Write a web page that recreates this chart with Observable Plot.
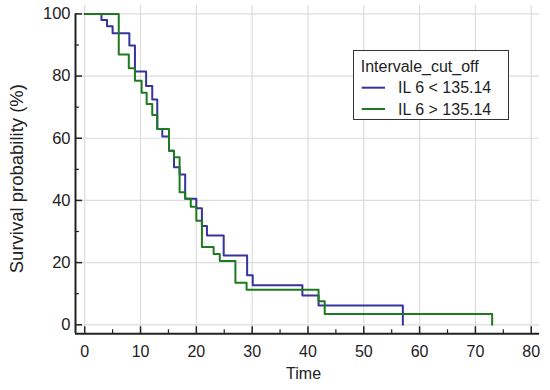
<!DOCTYPE html>
<html><head><meta charset="utf-8">
<script src="https://cdn.jsdelivr.net/npm/d3@7"></script>
<script src="https://cdn.jsdelivr.net/npm/@observablehq/plot@0.6"></script>
<style>
html,body{margin:0;padding:0;background:#fff;}
#wrap{position:relative;width:550px;height:390px;font-family:"Liberation Sans",Arial,sans-serif;}
#legend{position:absolute;left:350px;top:45px;}
</style>
</head><body>
<div id="wrap"><div id="chart"></div><div id="legend"></div></div>
<script>
const legendTitle = "Intervale_cut_off";
const groups = ["IL 6 < 135.14", "IL 6 > 135.14"];
const colors = ["#34349c", "#1f7a1f"];
// IL 6 < 135.14
const timeLow = [0, 3.0, 4.0, 5.0, 8.0, 9.0, 11.0, 12.1, 13.0, 13.9, 15.1, 16.0, 17.0, 18.0, 20.0, 21.0, 21.9, 24.9, 29.1, 30.1, 39.0, 41.9, 57.0];
const survLow = [100, 98, 96, 93.8, 89.8, 81.5, 76.8, 72.5, 63, 60.6, 56, 50.7, 48.3, 40.5, 37.5, 31.8, 28.7, 22.3, 15.9, 12.7, 9.4, 6.2, 0];
// IL 6 > 135.14
const timeHigh = [0, 6.1, 7.9, 9.0, 10.2, 11.1, 12.1, 13.0, 15.1, 16.0, 17.0, 18.0, 19.0, 20.0, 21.0, 23.1, 24.2, 27.0, 29.0, 41.9, 43.0, 73.0];
const survHigh = [100, 86.9, 82.5, 78.5, 74.6, 71, 67.5, 63, 56, 53.9, 42.6, 40.5, 38, 33.5, 25, 22.8, 20.5, 13.5, 11.3, 7.6, 3.5, 0];

const xTicks = [0, 10, 20, 30, 40, 50, 60, 70, 80];
const xMinor = [5, 15, 25, 35, 45, 55, 65, 75];
const yTicks = [0, 20, 40, 60, 80, 100];
const yMinor = [10, 30, 50, 70, 90];
const xTitle = "Time";
const yTitle = "Survival probability (%)";

const xDomain = [-1.65, 81.5];
const yDomain = [-2.9, 102.7];

const rows = [
  ...timeLow.map((t, i) => ({group: groups[0], time: t, surv: survLow[i]})),
  ...timeHigh.map((t, i) => ({group: groups[1], time: t, surv: survHigh[i]}))
];

const font = "'Liberation Sans', Arial, sans-serif";

const chart = Plot.plot({
  width: 550,
  height: 390,
  marginLeft: 75,
  marginRight: 10.9,
  marginTop: 5,
  marginBottom: 56.7,
  style: {fontFamily: font, fontSize: "16px", background: "white", color: "black"},
  x: {domain: xDomain, label: null},
  y: {domain: yDomain, label: null},
  color: {domain: groups, range: colors},
  marks: [
    Plot.gridX(xTicks, {stroke: "#dcdcdc", strokeOpacity: 1, strokeWidth: 1.2}),
    Plot.gridY(yTicks, {stroke: "#dcdcdc", strokeOpacity: 1, strokeWidth: 1.2}),
    Plot.line(rows, {x: "time", y: "surv", z: "group", stroke: "group", curve: "step-after", strokeWidth: 2}),
    Plot.ruleY([yDomain[0]], {stroke: "#222", strokeWidth: 2}),
    Plot.ruleX([xDomain[0]], {y1: yDomain[0], y2: 100, stroke: "#222", strokeWidth: 2}),
    Plot.axisX(xTicks, {tickSize: -7, tickPadding: 19, fontSize: 16, stroke: "#222", strokeWidth: 1.5, fill: "#222"}),
    Plot.axisX(xMinor, {tickSize: -4, tickFormat: () => "", stroke: "#222", strokeWidth: 1.2}),
    Plot.axisY(yTicks, {tickSize: -7, tickPadding: 12, fontSize: 16.5, stroke: "#222", strokeWidth: 1.5, fill: "#222"}),
    Plot.axisY(yMinor, {tickSize: -4, tickFormat: () => "", stroke: "#222", strokeWidth: 1.2}),
    Plot.text([xTitle], {frameAnchor: "bottom", dy: 45, dx: -4, fontSize: 16, fill: "#222"}),
    Plot.text([yTitle], {frameAnchor: "left", textAnchor: "middle", lineAnchor: "middle", dx: -58, dy: 9, rotate: -90, fontSize: 18.5, fill: "#222"})
  ]
});
document.getElementById("chart").appendChild(chart);

// legend
const lg = d3.select("#legend").append("svg").attr("width", 162).attr("height", 80)
  .style("font-family", font).style("font-size", "16px");
lg.append("rect").attr("x", 3.5).attr("y", 5.5).attr("width", 155).attr("height", 69)
  .attr("fill", "white").attr("stroke", "#333").attr("stroke-width", 1);
lg.append("text").attr("x", 10.7).attr("y", 26.7).attr("fill", "#222").text(legendTitle);
groups.forEach((g, i) => {
  const y = 42.7 + i * 21.3;
  lg.append("line").attr("x1", 11.7).attr("x2", 35).attr("y1", y).attr("y2", y)
    .attr("stroke", colors[i]).attr("stroke-width", 2);
  lg.append("text").attr("x", 48).attr("y", y + 5.6).attr("fill", "#222").text(g);
});
</script>
</body></html>
